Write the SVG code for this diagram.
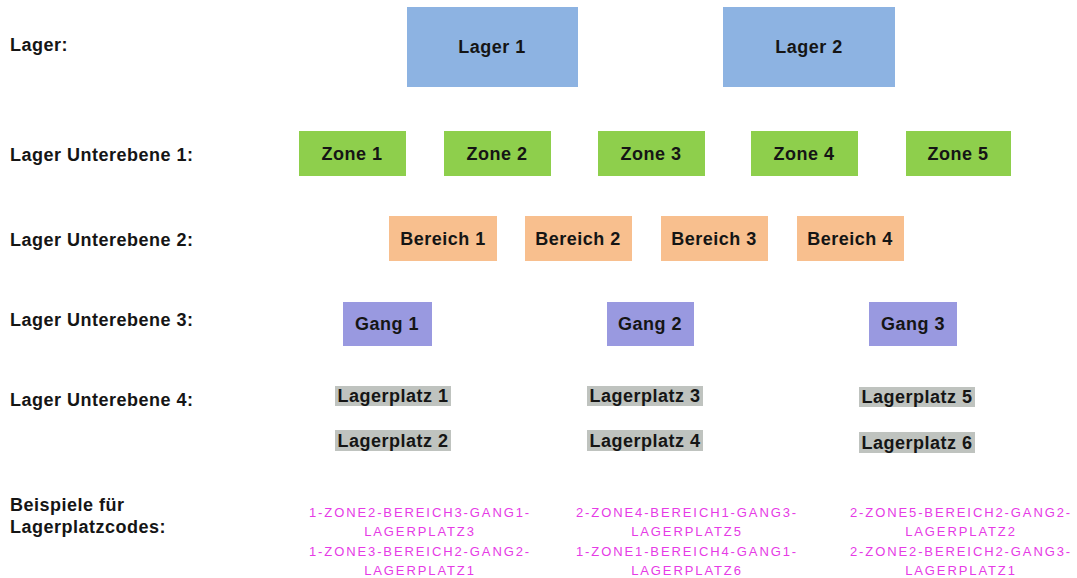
<svg xmlns="http://www.w3.org/2000/svg" width="1077" height="578" viewBox="0 0 1077 578">
<style>
.lbl{font-family:"Liberation Sans",Arial,sans-serif;font-weight:bold;font-size:18px;letter-spacing:0.5px;fill:#151515}
.t{font-family:"Liberation Sans",Arial,sans-serif;font-weight:bold;font-size:18px;letter-spacing:0.5px;fill:#151515;text-anchor:middle}
.code{font-family:"Liberation Sans",Arial,sans-serif;font-size:13px;letter-spacing:1.9px;fill:#e63ae6;text-anchor:middle}
.lager{fill:#8db3e2}
.zone{fill:#8ecf4c}
.ber{fill:#f8bf8e}
.gang{fill:#9999e0}
.platz{fill:#bfc3bf}
</style>
<rect width="1077" height="578" fill="#ffffff"/>
<g id="labels">
<text class="lbl" x="10" y="51">Lager:</text>
<text class="lbl" x="10" y="161">Lager Unterebene 1:</text>
<text class="lbl" x="10" y="246">Lager Unterebene 2:</text>
<text class="lbl" x="10" y="326">Lager Unterebene 3:</text>
<text class="lbl" x="10" y="406">Lager Unterebene 4:</text>
<text class="lbl" x="10" y="511">Beispiele für</text>
<text class="lbl" x="10" y="533">Lagerplatzcodes:</text>
</g>
<g id="lager1"><rect class="lager" x="407" y="7" width="171" height="80"/><text class="t" x="492" y="53">Lager 1</text></g>
<g id="lager2"><rect class="lager" x="723" y="7" width="172" height="80"/><text class="t" x="809" y="53">Lager 2</text></g>
<g id="zone1"><rect class="zone" x="299" y="131" width="107" height="45"/><text class="t" x="352" y="160">Zone 1</text></g>
<g id="zone2"><rect class="zone" x="444" y="131" width="107" height="45"/><text class="t" x="497" y="160">Zone 2</text></g>
<g id="zone3"><rect class="zone" x="598" y="131" width="107" height="45"/><text class="t" x="651" y="160">Zone 3</text></g>
<g id="zone4"><rect class="zone" x="751" y="131" width="107" height="45"/><text class="t" x="804" y="160">Zone 4</text></g>
<g id="zone5"><rect class="zone" x="906" y="131" width="105" height="45"/><text class="t" x="958" y="160">Zone 5</text></g>
<g id="bereich1"><rect class="ber" x="389" y="216" width="108" height="45"/><text class="t" x="443" y="245">Bereich 1</text></g>
<g id="bereich2"><rect class="ber" x="525" y="216" width="107" height="45"/><text class="t" x="578" y="245">Bereich 2</text></g>
<g id="bereich3"><rect class="ber" x="661" y="216" width="107" height="45"/><text class="t" x="714" y="245">Bereich 3</text></g>
<g id="bereich4"><rect class="ber" x="797" y="216" width="107" height="45"/><text class="t" x="850" y="245">Bereich 4</text></g>
<g id="gang1"><rect class="gang" x="343" y="302" width="89" height="44"/><text class="t" x="387" y="330">Gang 1</text></g>
<g id="gang2"><rect class="gang" x="607" y="302" width="87" height="44"/><text class="t" x="650" y="330">Gang 2</text></g>
<g id="gang3"><rect class="gang" x="869" y="302" width="88" height="44"/><text class="t" x="913" y="330">Gang 3</text></g>
<g id="lagerplatz1"><rect class="platz" x="335" y="386" width="116" height="20"/><text class="t" x="393" y="402">Lagerplatz 1</text></g>
<g id="lagerplatz2"><rect class="platz" x="335" y="430" width="116" height="21"/><text class="t" x="393" y="447">Lagerplatz 2</text></g>
<g id="lagerplatz3"><rect class="platz" x="587" y="386" width="116" height="20"/><text class="t" x="645" y="402">Lagerplatz 3</text></g>
<g id="lagerplatz4"><rect class="platz" x="587" y="430" width="116" height="21"/><text class="t" x="645" y="447">Lagerplatz 4</text></g>
<g id="lagerplatz5"><rect class="platz" x="859" y="387" width="116" height="20"/><text class="t" x="917" y="403">Lagerplatz 5</text></g>
<g id="lagerplatz6"><rect class="platz" x="859" y="432" width="116" height="21"/><text class="t" x="917" y="449">Lagerplatz 6</text></g>
<g id="codes">
<text class="code" x="420" y="517">1-ZONE2-BEREICH3-GANG1-</text>
<text class="code" x="420" y="536">LAGERPLATZ3</text>
<text class="code" x="420" y="556">1-ZONE3-BEREICH2-GANG2-</text>
<text class="code" x="420" y="575">LAGERPLATZ1</text>
<text class="code" x="687" y="517">2-ZONE4-BEREICH1-GANG3-</text>
<text class="code" x="687" y="536">LAGERPLATZ5</text>
<text class="code" x="687" y="556">1-ZONE1-BEREICH4-GANG1-</text>
<text class="code" x="687" y="575">LAGERPLATZ6</text>
<text class="code" x="961" y="517">2-ZONE5-BEREICH2-GANG2-</text>
<text class="code" x="961" y="536">LAGERPLATZ2</text>
<text class="code" x="961" y="556">2-ZONE2-BEREICH2-GANG3-</text>
<text class="code" x="961" y="575">LAGERPLATZ1</text>
</g>
<g id="connectors"></g>
</svg>
